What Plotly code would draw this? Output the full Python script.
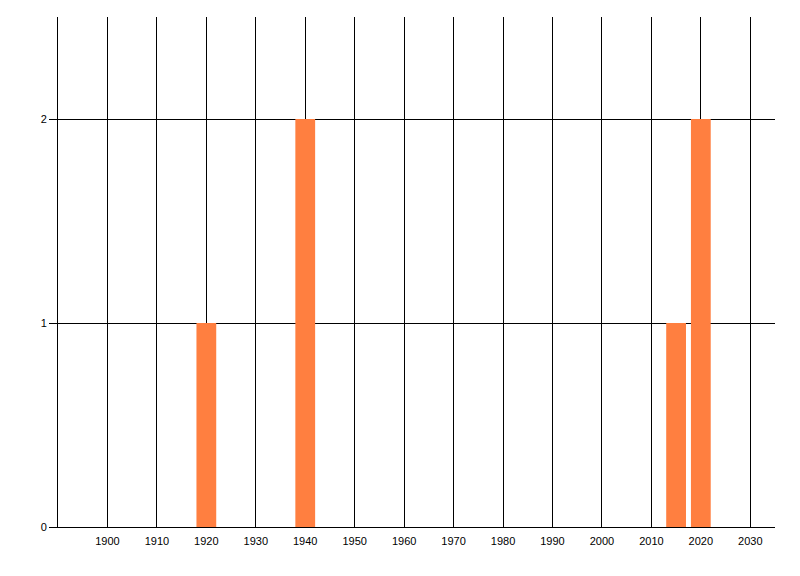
import plotly.graph_objects as go

years = [1920, 1940, 2015, 2020]
counts = [1, 2, 1, 2]
x_ticks = list(range(1900, 2031, 10))
y_ticks = [0, 1, 2]

fig = go.Figure()
fig.add_trace(go.Bar(x=years, y=counts, width=4, marker=dict(color="#FF7F40", line=dict(width=0))))

fig.update_layout(
    width=800, height=576,
    margin=dict(l=50, r=33, t=9, b=57),
    plot_bgcolor="white", paper_bgcolor="white",
    font=dict(family="Liberation Sans, Arial", size=11, color="black"),
    showlegend=False,
    xaxis=dict(range=[1890, 2035], tickvals=x_ticks, ticktext=[str(v) for v in x_ticks],
               showgrid=True, gridcolor="black", gridwidth=1,
               showline=True, linecolor="black", linewidth=1,
               ticks="", zeroline=False, ticklabelstandoff=4),
    yaxis=dict(range=[0, 2.5], tickvals=y_ticks, showgrid=True, gridcolor="black", gridwidth=1,
               showline=True, linecolor="black", linewidth=1,
               ticks="outside", ticklen=8, tickcolor="black", zeroline=False),
)
fig.write_html("out.html")
